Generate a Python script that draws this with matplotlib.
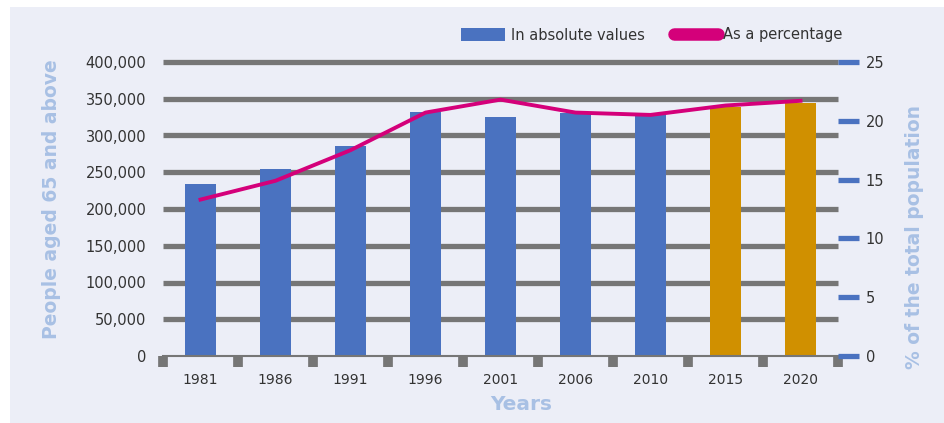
import matplotlib.pyplot as plt
from matplotlib.patches import Patch, Rectangle
from matplotlib.lines import Line2D

# Data
years = ['1981', '1986', '1991', '1996', '2001', '2006', '2010', '2015', '2020']
people_65 = [234000, 255000, 286000, 332000, 325000, 331000, 330000, 339000, 344000]
pct_total = [13.3, 14.9, 17.5, 20.7, 21.8, 20.7, 20.5, 21.3, 21.7]
projected = ['2015', '2020']

blue = '#4a72c0'
gold = '#d09000'
magenta = '#d4007a'
grid_gray = '#767676'
bg = '#eceef7'
label_blue = '#a8c0e4'
text_col = '#333333'

plt.rcParams['font.family'] = 'DejaVu Sans'

fig = plt.figure(figsize=(9.45, 4.23), dpi=100, facecolor='white')
fig.patches.append(Rectangle((10 / 945, 0), 1, (423 - 7) / 423, transform=fig.transFigure,
                             facecolor=bg, edgecolor='none', zorder=-10))

ax1 = fig.add_axes([163 / 945, 67 / 423, 675 / 945, 294 / 423])
ax1.set_facecolor('none')
x = list(range(len(years)))
bar_colors = [gold if y in projected else blue for y in years]

# Gridlines (thick gray)
for v in range(50000, 400001, 50000):
    ax1.axhline(v, color=grid_gray, lw=3.8, zorder=1, clip_on=False, solid_capstyle='butt')

ax1.bar(x, people_65, width=0.41, color=bar_colors, zorder=2)
ax1.set_xlim(-0.5, len(years) - 0.5)
ax1.set_ylim(0, 400000)
ax1.set_yticks(range(0, 400001, 50000))
ax1.set_yticklabels([f'{v:,}' for v in range(0, 400001, 50000)])
ax1.set_xticks(x)
ax1.set_xticklabels(years)
ax1.set_xticks([i - 0.5 for i in range(len(years) + 1)], minor=True)
ax1.tick_params(axis='x', which='major', length=0, pad=12, labelsize=10, labelcolor=text_col)
ax1.tick_params(axis='x', which='minor', length=8, width=7, color=grid_gray, direction='out')
ax1.tick_params(axis='y', length=0, pad=12, labelsize=10.5, labelcolor=text_col)
for s in ['top', 'left', 'right']:
    ax1.spines[s].set_visible(False)
ax1.spines['bottom'].set_color(grid_gray)
ax1.spines['bottom'].set_linewidth(1.5)

ax2 = ax1.twinx()
ax2.plot(x, pct_total, color=magenta, lw=2.8, zorder=3)
ax2.set_ylim(0, 25)
ax2.set_yticks(range(0, 26, 5))
ax2.tick_params(axis='y', length=15, width=3.8, color=blue, pad=5, labelsize=10.5, labelcolor=text_col)
for s in ['top', 'left', 'right', 'bottom']:
    ax2.spines[s].set_visible(False)

# Axis titles
fig.text(52 / 945, 1 - 199 / 423, 'People aged 65 and above', rotation=90, ha='center', va='center',
         color=label_blue, fontsize=13.5, fontweight='bold')
fig.text(915 / 945, 1 - 237 / 423, '% of the total population', rotation=90, ha='center', va='center',
         color=label_blue, fontsize=13.5, fontweight='bold')
fig.text(521 / 945, 1 - 404 / 423, 'Years', ha='center', va='center',
         color=label_blue, fontsize=14.5, fontweight='bold')

# Legend
handles = [Patch(facecolor=blue, edgecolor='none'),
           Line2D([0], [0], color=magenta, lw=9, solid_capstyle='round')]
fig.legend(handles, ['In absolute values', 'As a percentage'], ncol=2, frameon=False,
           loc='center', bbox_to_anchor=(652 / 945, 1 - 35 / 423), fontsize=10.5,
           handlelength=3, handleheight=0.9, handletextpad=0.4, columnspacing=2.0,
           labelcolor=text_col)

fig.savefig('out.png', dpi=100, facecolor='white')
